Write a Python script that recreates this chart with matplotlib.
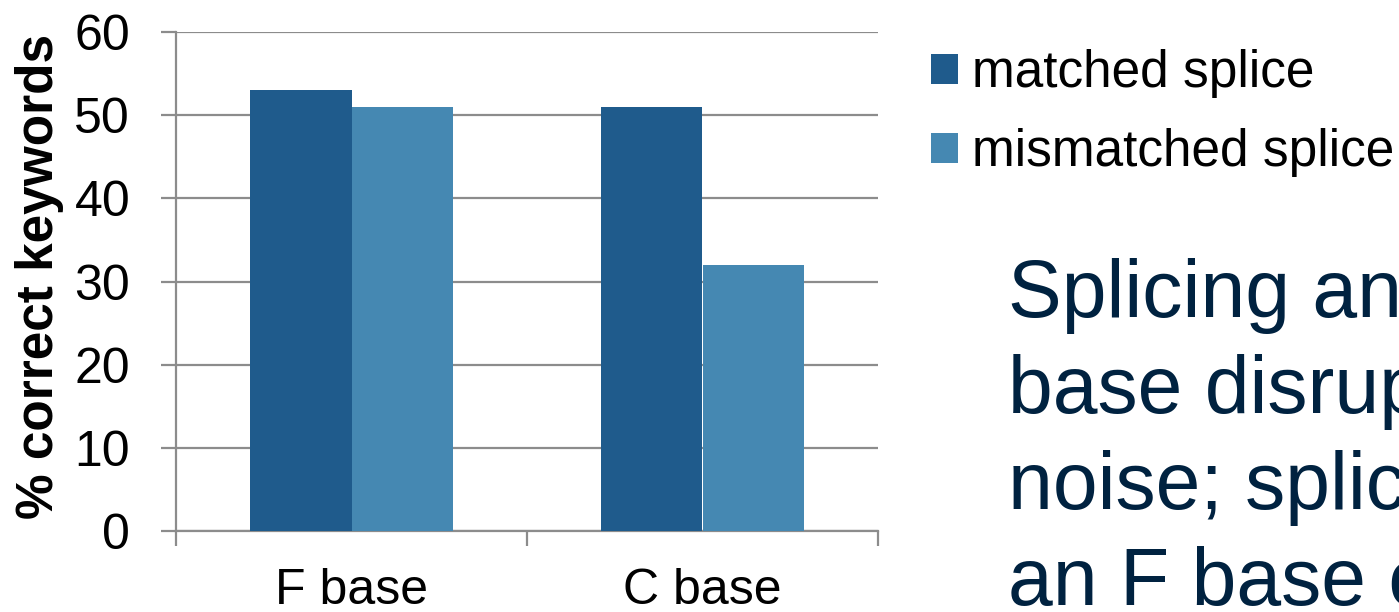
import numpy as np
import matplotlib.pyplot as plt

plt.rcParams['font.family'] = ['Liberation Sans', 'DejaVu Sans']

# data
categories = ['F base', 'C base']
series_names = ['matched splice', 'mismatched splice']
matched = [53, 51]
mismatched = [51, 32]
colors = ['#1F5B8C', '#4588B2']
note_lines = ['Splicing an', 'base disrup', 'noise; splic', 'an F base c']

grid_col = '#8C8C8C'

fig = plt.figure(figsize=(13.99, 6.12), dpi=100)
ax = fig.add_axes([176/1399, 1 - 531/612, 702/1399, 499/612])

x = np.arange(len(categories))
w = 0.288
ax.bar(x - w/2, matched, w, color=colors[0], label=series_names[0], zorder=3)
ax.bar(x + w/2, mismatched, w, color=colors[1], label=series_names[1], zorder=3)

ax.set_xlim(-0.5, len(categories) - 0.5)
ax.set_ylim(0, 60)
ax.set_yticks(np.arange(0, 61, 10))
ax.yaxis.grid(True, color=grid_col, lw=1.6, zorder=0)

for s in ['top', 'right']:
    ax.spines[s].set_visible(False)
for s in ['left', 'bottom']:
    ax.spines[s].set_color(grid_col)
    ax.spines[s].set_linewidth(1.6)

ax.tick_params(axis='y', length=11, width=1.6, color=grid_col, pad=22, labelsize=36)
ax.set_xticks(x)
ax.set_xticklabels(categories)
ax.set_xticks(np.arange(-0.5, len(categories)), minor=True)
ax.tick_params(axis='x', which='major', length=0, pad=27, labelsize=36)
ax.tick_params(axis='x', which='minor', length=11, width=1.6, color=grid_col)

fig.text(40/1399, 1 - 276/612, '% correct keywords', rotation=90,
         ha='center', va='center', fontsize=37, fontweight='bold')

ax.legend(loc='upper left', bbox_to_anchor=(931/1399, 1 - 49/612),
          bbox_transform=fig.transFigure, frameon=False, fontsize=37,
          handlelength=0.52, handleheight=0.52, handletextpad=0.28,
          labelspacing=0.59, borderaxespad=0, borderpad=0)

# side note, runs past the right edge
for i, line in enumerate(note_lines):
    fig.text(1008/1399, 1 - (317 + 96*i)/612, line, ha='left', va='baseline',
             fontsize=58, color='#002240')

fig.savefig('out.png', dpi=100)
